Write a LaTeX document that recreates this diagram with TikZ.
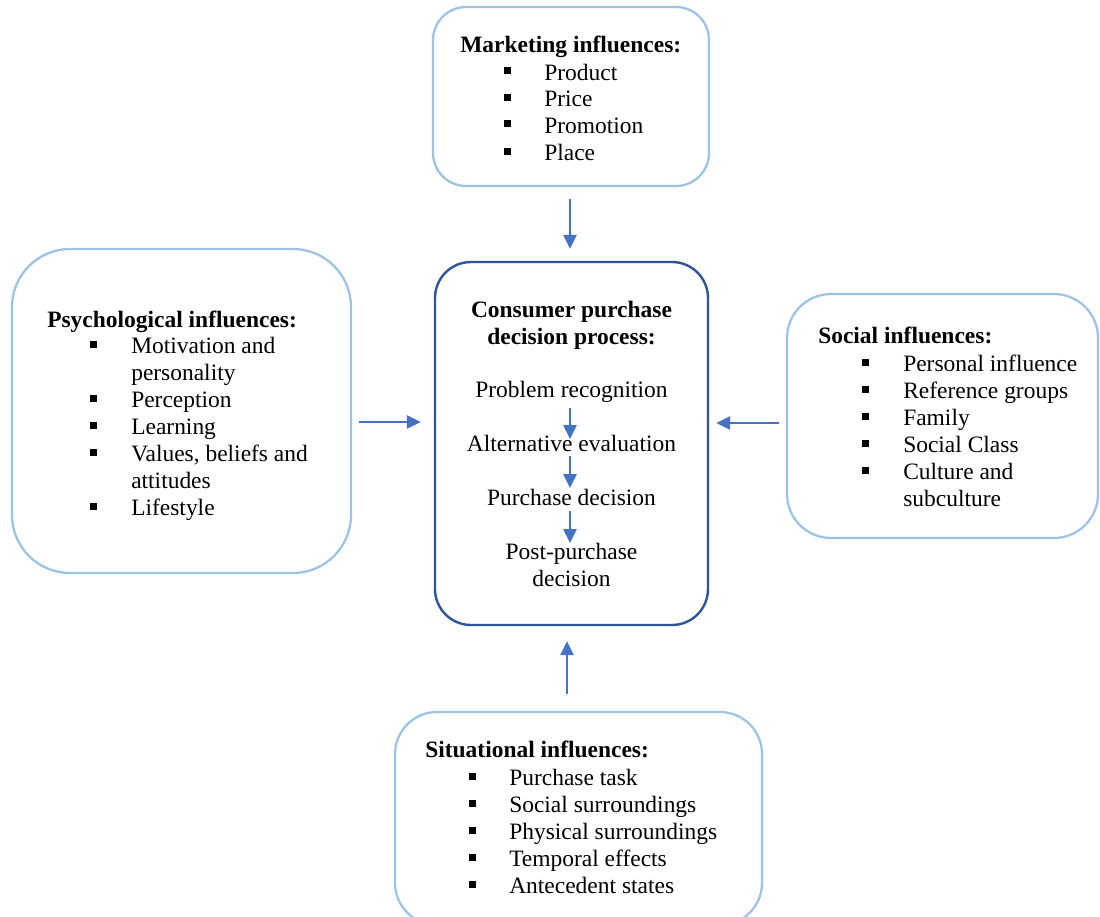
\documentclass[tikz,border=0pt]{standalone}
\usepackage{fontspec}
\setmainfont{Liberation Serif}
\usetikzlibrary{arrows.meta}
\definecolor{lightbd}{HTML}{9DC3E6}
\definecolor{darkbd}{HTML}{2F5597}
\definecolor{arrowc}{HTML}{4472C4}
\newcommand\px{0.75pt}
\tikzset{
  infbox/.style={draw=lightbd, line width=1.7pt, inner sep=0pt},
  procbox/.style={draw=darkbd, line width=1.8pt, inner sep=0pt},
  txt/.style={anchor=base west, inner sep=0pt, font=\fontsize{17.6pt}{20pt}\selectfont},
  ctxt/.style={anchor=base, inner sep=0pt, font=\fontsize{17.6pt}{20pt}\selectfont},
  ttl/.style={txt, font=\fontsize{17.6pt}{20pt}\selectfont\bfseries},
  cttl/.style={ctxt, font=\fontsize{17.6pt}{20pt}\selectfont\bfseries},
  arr/.style={draw=arrowc, line width=1.1pt, -{Triangle[length=10.5pt,width=10pt]}},
}
\newcommand\bitem[5]{%
  \fill (#2-3.5,#4-12.5) rectangle (#2+3.5,#4-5.5);
  \node[txt] (#1) at (#3,#4) {#5};}
\begin{document}
\begin{tikzpicture}[x=0.75pt,y=-0.75pt]
\clip (0,0) rectangle (1100,917);
\fill[white] (0,0) rectangle (1100,917);

% boxes
\node[infbox, minimum width=276*\px, minimum height=179*\px, rounded corners=33*\px] (tbox) at (571,96.5) {};
\node[infbox, minimum width=339*\px, minimum height=324*\px, rounded corners=58*\px] (lbox) at (181.5,411) {};
\node[procbox, minimum width=273*\px, minimum height=363*\px, rounded corners=36*\px] (cbox) at (571.5,443.5) {};
\node[infbox, minimum width=311*\px, minimum height=244*\px, rounded corners=44*\px] (rbox) at (942.5,416) {};
\node[infbox, minimum width=367*\px, minimum height=213*\px, rounded corners=42*\px] (bbox) at (578.5,818.5) {};

% marketing
\node[ttl] (tt) at (460,53) {Marketing influences:};
\bitem{t1}{507}{544}{80}{Product}
\bitem{t2}{507}{544}{107}{Price}
\bitem{t3}{507}{544}{133}{Promotion}
\bitem{t4}{507}{544}{160}{Place}

% psychological
\node[ttl] (lt) at (47,327) {Psychological influences:};
\bitem{l1}{93.5}{131}{353}{Motivation and}
\node[txt] (l1b) at (131,380) {personality};
\bitem{l2}{93.5}{131}{407}{Perception}
\bitem{l3}{93.5}{131}{434}{Learning}
\bitem{l4}{93.5}{131}{461}{Values, beliefs and}
\node[txt] (l4b) at (131,488) {attitudes};
\bitem{l5}{93.5}{131}{515}{Lifestyle}

% social
\node[ttl] (rt) at (818,343) {Social influences:};
\bitem{r1}{865.5}{903}{371}{Personal influence}
\bitem{r2}{865.5}{903}{398}{Reference groups}
\bitem{r3}{865.5}{903}{425}{Family}
\bitem{r4}{865.5}{903}{452}{Social Class}
\bitem{r5}{865.5}{903}{479}{Culture and}
\node[txt] (r5b) at (903,506) {subculture};

% situational
\node[ttl] (bt) at (425,757) {Situational influences:};
\bitem{b1}{472}{509}{785}{Purchase task}
\bitem{b2}{472}{509}{812}{Social surroundings}
\bitem{b3}{472}{509}{839}{Physical surroundings}
\bitem{b4}{472}{509}{866}{Temporal effects}
\bitem{b5}{472}{509}{893}{Antecedent states}

% process
\node[cttl] (c1) at (571.5,317) {Consumer purchase};
\node[cttl] (c2) at (571.5,344) {decision process:};
\node[ctxt] (p1) at (571.5,397) {Problem recognition};
\node[ctxt] (p2) at (571.5,451) {Alternative evaluation};
\node[ctxt] (p3) at (571.5,505) {Purchase decision};
\node[ctxt] (p4) at (571.5,559) {Post-purchase};
\node[ctxt] (p4b) at (571.5,586) {decision};

\coordinate (a1s) at (570,408); \coordinate (a1e) at (570,439);
\coordinate (a2s) at (570,456); \coordinate (a2e) at (570,488);
\coordinate (a3s) at (570,511); \coordinate (a3e) at (570,543);
\draw[arr] (a1s) -- (a1e);
\draw[arr] (a2s) -- (a2e);
\draw[arr] (a3s) -- (a3e);

% connectors
\coordinate (hl) at (0,422);
\coordinate (hr) at (0,423);
\coordinate (vt) at (570,0);
\coordinate (vb) at (567,0);
\draw[arr, shorten <=12*\px, shorten >=12*\px] (tbox.south -| vt) -- (cbox.north -| vt);
\draw[arr, shorten <=7*\px, shorten >=13*\px] (lbox.east |- hl) -- (cbox.west |- hl);
\draw[arr, shorten <=7*\px, shorten >=7*\px] (rbox.west |- hr) -- (cbox.east |- hr);
\draw[arr, shorten <=17*\px, shorten >=15*\px] (bbox.north -| vb) -- (cbox.south -| vb);
\end{tikzpicture}
\end{document}
